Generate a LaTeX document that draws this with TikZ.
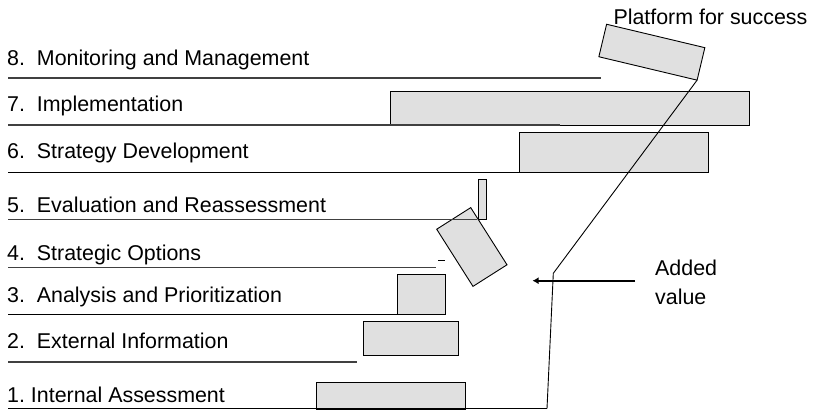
\documentclass[tikz,border=0pt]{standalone}
\usepackage{fontspec}
\setmainfont{Liberation Sans}
\usetikzlibrary{arrows.meta}
\frenchspacing
\begin{document}
\begin{tikzpicture}[x=1pt,y=-1pt,
  lbl/.style={anchor=base west,inner sep=0pt,font=\fontsize{21.4}{25}\selectfont},
  bar/.style={draw=black,line width=0.9pt,fill=black!12,inner sep=0pt,outer sep=0pt},
  sep/.style={line width=1.4pt,draw=black!75},
  sepk/.style={line width=1.4pt,draw=black},
  conn/.style={line width=0.9pt,draw=black}]
\useasboundingbox (0,0) rectangle (816,410);
% bars
\node[bar,minimum width=359pt,minimum height=34pt] (b7) at (569.5,108) {};
\node[bar,minimum width=189pt,minimum height=40pt] (b6) at (613.5,152) {};
\node[bar,minimum width=8pt,minimum height=40pt] (b5) at (482,199) {};
\node[bar,minimum width=40.3pt,minimum height=67.7pt,rotate=32.4] (b4) at (471.85,247) {};
\node[bar,minimum width=48pt,minimum height=40pt] (b3) at (421,294) {};
\node[bar,minimum width=95pt,minimum height=34pt] (b2) at (410.5,338) {};
\node[bar,minimum width=149pt,minimum height=27pt] (b1) at (390.5,395.5) {};
\node[bar,minimum width=101pt,minimum height=33.4pt,rotate=-13.4] (plat) at (651.85,52.2) {};
% separator lines
\coordinate (l8a) at (8,78);   \coordinate (l8b) at (601,78);
\coordinate (l7a) at (8,125);  \coordinate (l7b) at (560,125);
\coordinate (l6a) at (8,172.5);\coordinate (l6b) at (519,172.5);
\coordinate (l5a) at (8,219.5);\coordinate (l5b) at (477,219.5);
\coordinate (l4a) at (8,267.5);\coordinate (l4b) at (436,267.5);
\coordinate (l3a) at (8,314.5);\coordinate (l3b) at (397,314.5);
\coordinate (l2a) at (8,362);  \coordinate (l2b) at (357,362);
\coordinate (l1a) at (8,408.5);\coordinate (l1b) at (547,408.5);
\draw[sep] (l8a) -- (l8b);
\draw[sep] (l7a) -- (l7b);
\draw[sepk] (l6a) -- (l6b);
\draw[sep] (l5a) -- (l5b);
\draw[sep] (l4a) -- (l4b);
\draw[sepk] (l3a) -- (l3b);
\draw[sep] (l2a) -- (l2b);
\draw[sepk] (l1a) -- (l1b);
\coordinate (da) at (438,260.7); \coordinate (db) at (445,260.7);
\draw[line width=1.2pt] (da) -- (db);
% labels
\node[lbl] (t8) at (7,65) {8.\ \ Monitoring and Management};
\node[lbl] (t7) at (7,111.7) {7.\ \ Implementation};
\node[lbl] (t6) at (7,158.5) {6.\ \ Strategy Development};
\node[lbl] (t5) at (7,212.5) {5.\ \ Evaluation and Reassessment};
\node[lbl] (t4) at (7,260) {4.\ \ Strategic Options};
\node[lbl] (t3) at (7,302) {3.\ \ Analysis and Prioritization};
\node[lbl] (t2) at (7,348) {2.\ \ External Information};
\node[lbl] (t1) at (7,402) {1. Internal Assessment};
\node[lbl] (tp) at (613.3,24) {Platform for success};
\node[lbl] (ta) at (655,275) {Added};
\node[lbl] (tv) at (655,304) {value};
% connector
\coordinate (cb) at (547,408.5);
\coordinate (ck) at (553.3,273.3);
\draw[conn] (cb) -- (ck) -- (plat.south east);
% arrow
\coordinate (as) at (635,280.7);
\coordinate (ae) at (532.5,280.7);
\draw[line width=1.7pt,-{Latex[length=6pt,width=7pt]}] (as) -- (ae);
\end{tikzpicture}
\end{document}
